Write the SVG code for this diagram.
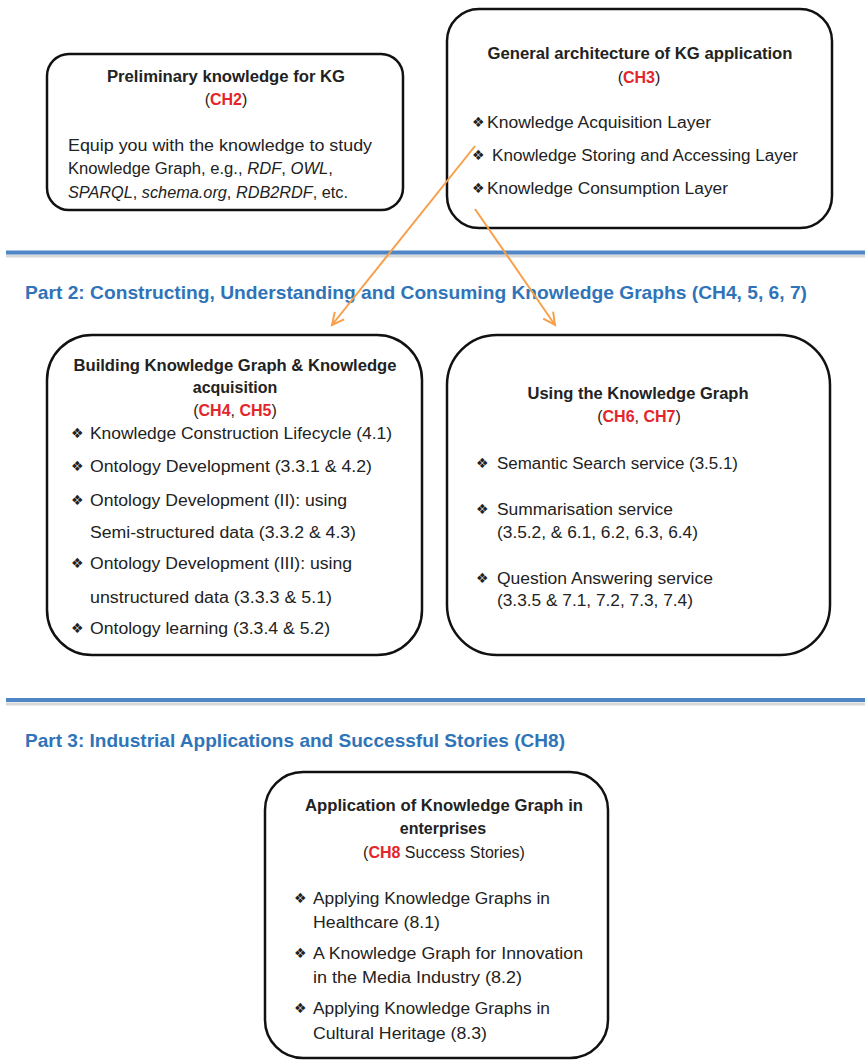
<svg xmlns="http://www.w3.org/2000/svg" width="865" height="1061" viewBox="0 0 865 1061">
<defs>
<style>
.box{fill:#fff;stroke:#111;stroke-width:2.5}
.t{font-family:"Liberation Sans",Arial,sans-serif;font-size:16px;fill:#222}
.b{font-weight:bold;text-anchor:middle}
.red{fill:#e3262b}
.bul{font-family:"DejaVu Sans",sans-serif;font-size:14px;fill:#222}
.hd{font-family:"Liberation Sans",Arial,sans-serif;font-size:19px;font-weight:bold;fill:#2f74b8}
.sep{stroke:#4f86c6;stroke-width:4}
.sh{stroke:#d8d8d8;stroke-width:3}
.arr{stroke:#f7a04b;stroke-width:2;fill:none}
</style>
<marker id="ah" markerUnits="userSpaceOnUse" markerWidth="16" markerHeight="16" refX="13" refY="7" orient="auto">
<path d="M1,1 L13,7 L1,13" fill="none" stroke="#f7a04b" stroke-width="2"/>
</marker>
</defs>
<rect width="865" height="1061" fill="#fff"/>

<g id="separators">
<line class="sh" x1="6" y1="256" x2="865" y2="256"/>
<line class="sep" x1="6" y1="252.5" x2="865" y2="252.5"/>
<line class="sh" x1="6" y1="704" x2="865" y2="704"/>
<line class="sep" x1="6" y1="700" x2="865" y2="700"/>
<text class="hd" x="25" y="299" textLength="782" lengthAdjust="spacingAndGlyphs">Part 2: Constructing, Understanding and Consuming Knowledge Graphs (CH4, 5, 6, 7)</text>
<text class="hd" x="25" y="747" textLength="540" lengthAdjust="spacingAndGlyphs">Part 3: Industrial Applications and Successful Stories (CH8)</text>
</g>

<g id="node-ch2">
<rect class="box" x="47" y="54" width="356" height="156" rx="22"/>
<text class="t b" x="226" y="82" textLength="238" lengthAdjust="spacingAndGlyphs">Preliminary knowledge for KG</text>
<text class="t" x="226" y="105" text-anchor="middle">(<tspan class="red" font-weight="bold">CH2</tspan>)</text>
<text class="t" x="68" y="151" textLength="304" lengthAdjust="spacingAndGlyphs">Equip you with the knowledge to study</text>
<text class="t" x="68" y="174" textLength="265" lengthAdjust="spacingAndGlyphs">Knowledge Graph, e.g., <tspan font-style="italic">RDF</tspan>, <tspan font-style="italic">OWL</tspan>,</text>
<text class="t" x="68" y="198" textLength="280" lengthAdjust="spacingAndGlyphs"><tspan font-style="italic">SPARQL</tspan>, <tspan font-style="italic">schema.org</tspan>, <tspan font-style="italic">RDB2RDF</tspan>, etc.</text>
</g>

<g id="node-ch3">
<rect class="box" x="447" y="9" width="385" height="219" rx="32"/>
<text class="t b" x="640" y="59" textLength="305" lengthAdjust="spacingAndGlyphs">General architecture of KG application</text>
<text class="t" x="639" y="83" text-anchor="middle">(<tspan class="red" font-weight="bold">CH3</tspan>)</text>
<text class="bul" x="472" y="127">❖</text>
<text class="t" x="487" y="128" textLength="224" lengthAdjust="spacingAndGlyphs">Knowledge Acquisition Layer</text>
<text class="bul" x="472" y="160">❖</text>
<text class="t" x="492" y="161" textLength="306" lengthAdjust="spacingAndGlyphs">Knowledge Storing and Accessing Layer</text>
<text class="bul" x="472" y="193">❖</text>
<text class="t" x="487" y="194" textLength="241" lengthAdjust="spacingAndGlyphs">Knowledge Consumption Layer</text>
</g>

<g id="connectors">
<line class="arr" x1="475" y1="146" x2="332" y2="325" marker-end="url(#ah)"/>
<line class="arr" x1="475" y1="209" x2="555" y2="325" marker-end="url(#ah)"/>
</g>

<g id="node-ch45">
<rect class="box" x="47" y="335" width="375" height="320" rx="45"/>
<text class="t b" x="235" y="371" textLength="323" lengthAdjust="spacingAndGlyphs">Building Knowledge Graph &amp; Knowledge</text>
<text class="t b" x="235" y="393">acquisition</text>
<text class="t" x="235" y="416" text-anchor="middle">(<tspan class="red" font-weight="bold">CH4</tspan>, <tspan class="red" font-weight="bold">CH5</tspan>)</text>
<text class="bul" x="71" y="438">❖</text>
<text class="t" x="90" y="439" textLength="302" lengthAdjust="spacingAndGlyphs">Knowledge Construction Lifecycle (4.1)</text>
<text class="bul" x="71" y="471">❖</text>
<text class="t" x="90" y="472" textLength="282" lengthAdjust="spacingAndGlyphs">Ontology Development (3.3.1 &amp; 4.2)</text>
<text class="bul" x="71" y="505">❖</text>
<text class="t" x="90" y="506" textLength="257" lengthAdjust="spacingAndGlyphs">Ontology Development (II): using</text>
<text class="t" x="90" y="538" textLength="266" lengthAdjust="spacingAndGlyphs">Semi-structured data (3.3.2 &amp; 4.3)</text>
<text class="bul" x="71" y="568">❖</text>
<text class="t" x="90" y="569" textLength="262" lengthAdjust="spacingAndGlyphs">Ontology Development (III): using</text>
<text class="t" x="90" y="603" textLength="242" lengthAdjust="spacingAndGlyphs">unstructured data (3.3.3 &amp; 5.1)</text>
<text class="bul" x="71" y="633">❖</text>
<text class="t" x="90" y="634" textLength="240" lengthAdjust="spacingAndGlyphs">Ontology learning (3.3.4 &amp; 5.2)</text>
</g>

<g id="node-ch67">
<rect class="box" x="447" y="335" width="383" height="320" rx="50"/>
<text class="t b" x="638" y="399" textLength="221" lengthAdjust="spacingAndGlyphs">Using the Knowledge Graph</text>
<text class="t" x="639" y="422" text-anchor="middle">(<tspan class="red" font-weight="bold">CH6</tspan>, <tspan class="red" font-weight="bold">CH7</tspan>)</text>
<text class="bul" x="476" y="468">❖</text>
<text class="t" x="497" y="469" textLength="241" lengthAdjust="spacingAndGlyphs">Semantic Search service (3.5.1)</text>
<text class="bul" x="476" y="514">❖</text>
<text class="t" x="497" y="515" textLength="176" lengthAdjust="spacingAndGlyphs">Summarisation service</text>
<text class="t" x="497" y="538" textLength="201" lengthAdjust="spacingAndGlyphs">(3.5.2, &amp; 6.1, 6.2, 6.3, 6.4)</text>
<text class="bul" x="476" y="583">❖</text>
<text class="t" x="497" y="584" textLength="216" lengthAdjust="spacingAndGlyphs">Question Answering service</text>
<text class="t" x="497" y="606" textLength="196" lengthAdjust="spacingAndGlyphs">(3.3.5 &amp; 7.1, 7.2, 7.3, 7.4)</text>
</g>

<g id="node-ch8">
<rect class="box" x="265" y="772" width="343" height="286" rx="38"/>
<text class="t b" x="444" y="811" textLength="278" lengthAdjust="spacingAndGlyphs">Application of Knowledge Graph in</text>
<text class="t b" x="443" y="834">enterprises</text>
<text class="t" x="444" y="858" text-anchor="middle">(<tspan class="red" font-weight="bold">CH8</tspan> Success Stories)</text>
<text class="bul" x="294" y="903">❖</text>
<text class="t" x="313" y="904" textLength="237" lengthAdjust="spacingAndGlyphs">Applying Knowledge Graphs in</text>
<text class="t" x="313" y="928" textLength="127" lengthAdjust="spacingAndGlyphs">Healthcare (8.1)</text>
<text class="bul" x="294" y="958">❖</text>
<text class="t" x="313" y="959" textLength="270" lengthAdjust="spacingAndGlyphs">A Knowledge Graph for Innovation</text>
<text class="t" x="313" y="983" textLength="209" lengthAdjust="spacingAndGlyphs">in the Media Industry (8.2)</text>
<text class="bul" x="294" y="1013">❖</text>
<text class="t" x="313" y="1014" textLength="237" lengthAdjust="spacingAndGlyphs">Applying Knowledge Graphs in</text>
<text class="t" x="313" y="1039" textLength="174" lengthAdjust="spacingAndGlyphs">Cultural Heritage (8.3)</text>
</g>
</svg>
